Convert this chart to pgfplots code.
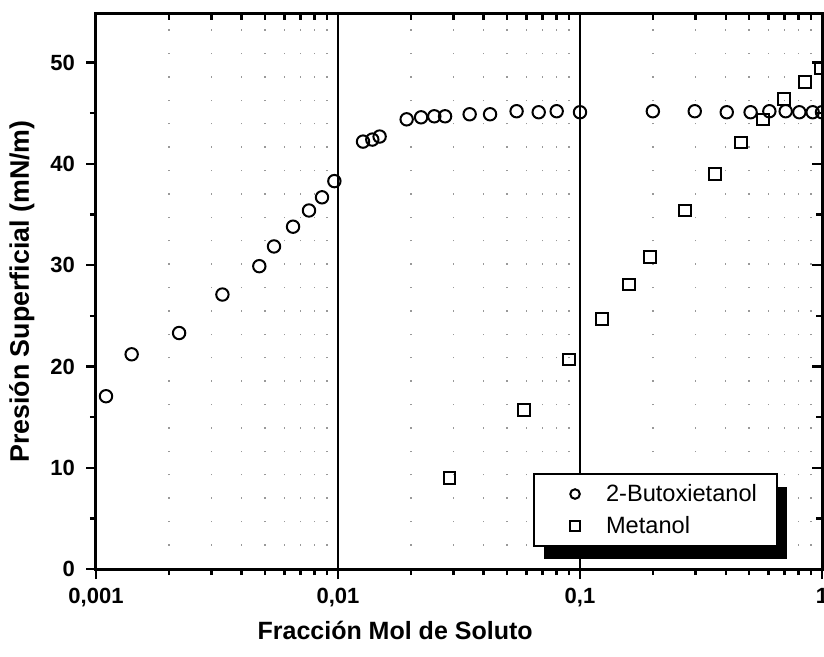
\documentclass[border=0pt]{standalone}
\usepackage{pgfplots}
\pgfplotsset{compat=1.18}
\usepackage{fontspec}
\setmainfont{Liberation Sans}
\usetikzlibrary{shadows}
\pgfplotsset{my legend/.style={legend image code/.code={\path (0pt,0pt) (25pt,0pt); \draw[##1,mark size=2.4pt] plot coordinates {(12pt,0pt)};}}}
\begin{document}
\begin{tikzpicture}
\begin{axis}[name=main,
  scale only axis, width=363pt, height=277.5pt,
  xmode=log, xmin=0.001, xmax=1, ymin=0, ymax=54.8,
  axis line style={line width=1.5pt},
  xtick={0.001,0.01,0.1,1}, xticklabels={{0,001},{0,01},{0,1},{1}},
  minor xtick={0.002,0.003,0.004,0.005,0.006,0.007,0.008,0.009,0.02,0.03,0.04,0.05,0.06,0.07,0.08,0.09,0.2,0.3,0.4,0.5,0.6,0.7,0.8,0.9},
  ytick={0,10,20,30,40,50}, minor ytick={5,15,25,35,45},
  xtick pos=left, ytick pos=left,
  tick align=outside,
  major tick length=5pt, minor tick length=3pt,
  tick style={line width=1.2pt, black},
  xmajorgrids, xminorgrids,
  major grid style={line width=1pt, black, solid},
  minor grid style={gray!80, dash pattern=on 0.7pt off 11pt, line width=0.7pt},
  /pgf/number format/assume math mode=true,
  tick label style={font=\bfseries\fontsize{11}{13}\selectfont},
  xticklabel style={yshift=-1pt},
  yticklabel style={xshift=-2pt},
  xlabel={Fracción Mol de Soluto},
  ylabel={Presión Superficial (mN/m)},
  xlabel style={font=\bfseries\fontsize{12.5}{15}\selectfont, at={(axis description cs:0.412,-0.11)}, anchor=center},
  ylabel style={font=\bfseries\fontsize{13.4}{15}\selectfont, at={(axis description cs:-0.102,0.5)}, anchor=center},
  legend style={at={(axis description cs:0.602,0.173)}, anchor=north west,
    draw=black, line width=1pt, fill=white,
    drop shadow={shadow xshift=5pt, shadow yshift=-6.5pt, fill=black, opacity=1},
    font=\fontsize{11.8}{13}\selectfont,
    inner xsep=8pt, inner ysep=3pt, row sep=2pt},
  legend cell align=left,
]
\coordinate (sw) at (rel axis cs:0,0);
\coordinate (ne) at (rel axis cs:1,1);
\addplot[only marks, my legend, mark=o, mark size=3.1pt, line width=1pt, black] coordinates {
(0.00110,17.06) (0.001404,21.2) (0.002205,23.3) (0.00333,27.1) (0.00473,29.9)
(0.00544,31.85) (0.00652,33.8) (0.00759,35.4) (0.00859,36.7) (0.00966,38.3)
(0.01269,42.2) (0.01386,42.4) (0.01486,42.7) (0.01922,44.4) (0.02205,44.6)
(0.0250,44.7) (0.0277,44.7) (0.0350,44.9) (0.0425,44.9) (0.0547,45.2)
(0.0675,45.1) (0.0801,45.2) (0.1,45.1) (0.200,45.2) (0.298,45.2)
(0.404,45.1) (0.507,45.1) (0.606,45.2) (0.708,45.2) (0.806,45.1)
(0.915,45.1) (1.0,45.1)
};
\addlegendentry{2-Butoxietanol}
\addplot[only marks, my legend, mark=square, mark size=2.9pt, line width=1pt, black] coordinates {
(0.0289,9.0) (0.0587,15.7) (0.090,20.7) (0.1236,24.7) (0.159,28.1)
(0.195,30.8) (0.272,35.4) (0.362,39.0) (0.463,42.1) (0.572,44.4)
(0.697,46.4) (0.851,48.1) (0.99,49.4)
};
\addlegendentry{Metanol}
\end{axis}
\begin{axis}[
  at={(main.south west)}, anchor=south west,
  scale only axis, width=363pt, height=277.5pt,
  xmode=log, xmin=0.001, xmax=1, ymin=0, ymax=54.8,
  axis line style={line width=1.5pt},
  xtick={0.001,0.01,0.1,1}, xticklabels={},
  minor xtick={0.002,0.003,0.004,0.005,0.006,0.007,0.008,0.009,0.02,0.03,0.04,0.05,0.06,0.07,0.08,0.09,0.2,0.3,0.4,0.5,0.6,0.7,0.8,0.9},
  ytick={0,10,20,30,40,50}, yticklabels={}, minor ytick={5,15,25,35,45},
  xtick pos=right, ytick pos=right,
  tick align=inside,
  major tick length=5pt, minor tick length=3pt,
  tick style={line width=1.2pt, black},
]
\end{axis}
\pgfresetboundingbox
\path[use as bounding box] ([xshift=-48pt,yshift=-43.5pt]sw) rectangle ([xshift=1pt,yshift=7pt]ne);
\end{tikzpicture}
\end{document}
